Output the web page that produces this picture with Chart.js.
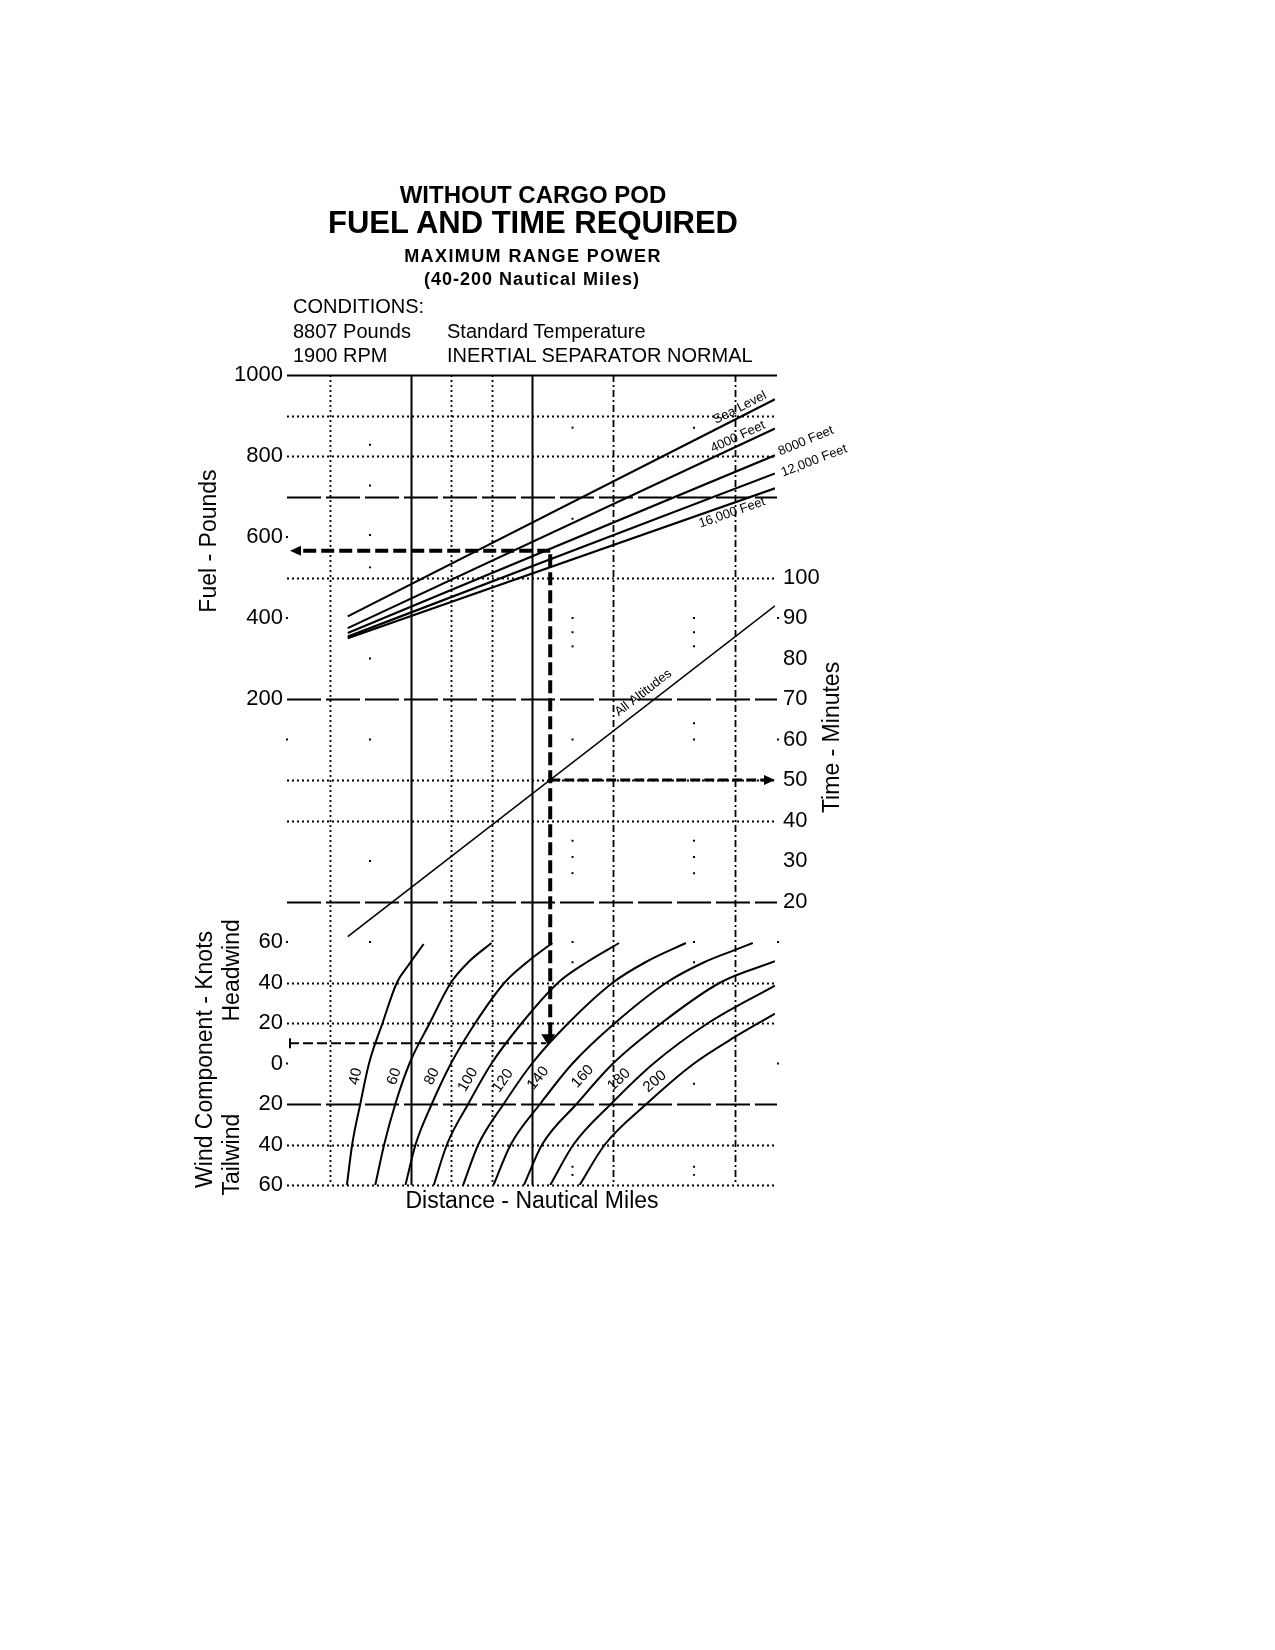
<!DOCTYPE html>
<html>
<head>
<meta charset="utf-8">
<title>Fuel and Time Required</title>
<script src="https://cdn.jsdelivr.net/npm/chart.js@4.4.1/dist/chart.umd.min.js"></script>
<style>
  html, body { margin: 0; padding: 0; background: #fff; }
  #page { position: relative; width: 1275px; height: 1650px; font-family: "Liberation Sans", Arial, sans-serif; color: #000; }
  #chart { position: absolute; left: 0; top: 0; }
  .t { position: absolute; white-space: nowrap; line-height: 1; }
  .c { transform: translateX(-50%); }
  .b { font-weight: bold; }
</style>
</head>
<body>
<div id="page">
  <canvas id="chart" width="1275" height="1650"></canvas>

  <div class="t c b" style="left:533px; top:183px; font-size:24px;">WITHOUT CARGO POD</div>
  <div class="t c b" style="left:533px; top:207px; font-size:31px;">FUEL AND TIME REQUIRED</div>
  <div class="t c b" style="left:533px; top:247px; font-size:18px; letter-spacing:1.4px;">MAXIMUM RANGE POWER</div>
  <div class="t c b" style="left:532px; top:270px; font-size:18px; letter-spacing:1px;">(40-200 Nautical Miles)</div>
  <div class="t" style="left:293px; top:296px; font-size:20px;">CONDITIONS:</div>
  <div class="t" style="left:293px; top:321px; font-size:20px;">8807 Pounds</div>
  <div class="t" style="left:447px; top:321px; font-size:20px;">Standard Temperature</div>
  <div class="t" style="left:293px; top:345px; font-size:20px;">1900 RPM</div>
  <div class="t" style="left:447px; top:345px; font-size:20px;">INERTIAL SEPARATOR NORMAL</div>
</div>

<script>
// ========================
//    chart data
// ========================

// fuel lines (pounds) at the two ends of each altitude line
const altitudeNames = ["Sea Level", "4000 Feet", "8000 Feet", "12,000 Feet", "16,000 Feet"];
const fuelLineDist = [29, 240];
const fuelAtStart = [404, 375, 363, 354, 350];
const fuelAtEnd = [940, 868, 802, 757, 720];

// time line (minutes), all altitudes
const timeLineDist = [29, 240];
const timeLineMinutes = [11.3, 93];

// wind component curves: [distance, wind] (headwind +, tailwind -)
const distanceNames = ["40", "60", "80", "100", "120", "140", "160", "180", "200"];
const distanceCurves = [
  [[28.6, -60], [31.2, -40], [35.2, -20], [39.5, 0], [46.2, 20], [53.3, 40], [58.6, 48], [66.5, 59]],
  [[42.6, -60], [47, -40], [52.5, -20], [59.5, 0], [69.5, 20], [80, 40], [88.5, 50], [100, 59.5]],
  [[57.5, -60], [62.5, -40], [70.5, -20], [80, 0], [92, 20], [106.5, 40], [117.5, 50], [130, 59.5]],
  [[71.5, -60], [78, -40], [88.5, -20], [100, 0], [115, 20], [133, 40], [147, 50], [163, 59.5]],
  [[86, -60], [93.5, -40], [106, -20], [120, 0], [138, 20], [160, 40], [176, 50], [196, 59.5]],
  [[101, -60], [109.5, -40], [124, -20], [140, 0], [161, 20], [186.5, 40], [205, 50], [220, 56], [229, 59.5]],
  [[116, -60], [125, -40], [142, -20], [160, 0], [184, 20], [213, 40], [240, 50.5]],
  [[129, -60], [140.5, -40], [159, -20], [180, 0], [207, 20], [240, 38.5]],
  [[143.5, -60], [156, -40], [176.5, -20], [200, 0], [220, 13], [240, 24.6]]
];

// label anchors
const altLabelDist = [222.7, 221.7, 255.3, 259.3, 218.8];
const altLabelFuel = [919, 847, 837, 788, 660];
const timeLabelDist = 175;
const timeLabelMinutes = 71.5;
const distLabelDist = [33, 52, 70.6, 88.4, 105.7, 123, 145, 163, 180.7];
const distLabelWind = [-6.4, -6.4, -6.4, -8, -8.5, -7.2, -6.4, -8, -8.9];

// worked example: 120 nm, 10 kt headwind
const exampleDist = 129;
const exampleWind = 10;
const exampleFuel = 566;
const exampleTime = 50;

// grid rules
const fuelGridSolid = [1000];
const fuelGridDotted = [900, 800];
const fuelGridDashed = [700, 200];
const timeGridDotted = [100, 50, 40];
const timeGridDashed = [20];
const windGridDotted = [40, 20, -40, -60];
const windGridDashed = [-20];
const distGridSolid = [60, 120];
const distGridDotted = [20, 80, 100];
const distGridDashDot = [160, 220];

// stray grid dots (fuel-axis units)
const dotsAt40 = [828, 727, 605, 525, 300, 100, -200, -400];
const dotsAt140 = [870, 645, 400, 365, 330, 100, -150, -190, -230, -400, -450, -955, -975];
const dotsAt200 = [870, 400, 365, 330, 140, 100, -150, -190, -230, -400, -450, -750, -955, -975];
const edgeDotsLeft = [600, 400, 100, -400, -700];
const edgeDotsRight = [400, 100, -400, -700];

// ========================
//    helpers
// ========================
const FONT = '"Liberation Sans", Arial, sans-serif';
const AXIS_W = 80;

function strokeLine(ctx, x1, y1, x2, y2, width, dash) {
  ctx.beginPath();
  ctx.lineWidth = width;
  ctx.setLineDash(dash);
  ctx.moveTo(x1, y1);
  ctx.lineTo(x2, y2);
  ctx.stroke();
}

function arrowHead(ctx, x, y, dir) {
  const L = 11, W = 5;
  ctx.beginPath();
  if (dir === "left") { ctx.moveTo(x, y); ctx.lineTo(x + L, y - W); ctx.lineTo(x + L, y + W); }
  if (dir === "right") { ctx.moveTo(x, y); ctx.lineTo(x - L, y - W); ctx.lineTo(x - L, y + W); }
  if (dir === "down") { ctx.moveTo(x - 2, y + 2); ctx.lineTo(x - 9, y - 9); ctx.lineTo(x + 5, y - 9); }
  ctx.closePath();
  ctx.fill();
}

function rotatedText(ctx, text, px, py, angle, size) {
  ctx.save();
  ctx.translate(px, py);
  ctx.rotate(angle);
  ctx.font = size + "px " + FONT;
  ctx.textAlign = "center";
  ctx.textBaseline = "middle";
  ctx.fillText(text, 0, 0);
  ctx.restore();
}

function segAngle(p, q) {
  return Math.atan2(q.y - p.y, q.x - p.x);
}

// ========================
//    nomogram plugin
// ========================
const nomogram = {
  id: "nomogram",

  // the three value axes share the plot height, so lay them over each other
  afterLayout(chart) {
    const a = chart.chartArea;
    ["fuel", "wind"].forEach(id => {
      const s = chart.scales[id];
      s.right = a.left;
      s.left = a.left - AXIS_W;
    });
    const t = chart.scales.time;
    t.left = a.right;
    t.right = a.right + AXIS_W;
  },

  beforeDatasetsDraw(chart) {
    const { ctx, chartArea: a, scales } = chart;
    const { x, fuel, time, wind } = scales;
    const DOT = [2, 3], LONG = [34, 5], DASHDOT = [7, 3, 2, 3];

    ctx.save();
    ctx.strokeStyle = "#000";
    const h = (scale, vals, w, dash) => vals.forEach(v => {
      const y = Math.round(scale.getPixelForValue(v)) + 0.5;
      strokeLine(ctx, a.left - 2, y, a.right + 2, y, w, dash);
    });
    const v = (vals, w, dash) => vals.forEach(d => {
      const px = Math.round(x.getPixelForValue(d)) + 0.5;
      strokeLine(ctx, px, a.top, px, a.bottom, w, dash);
    });

    h(fuel, fuelGridSolid, 2, []);
    h(fuel, fuelGridDotted, 1.8, DOT);
    h(fuel, fuelGridDashed, 2, LONG);
    h(time, timeGridDotted, 1.8, DOT);
    h(time, timeGridDashed, 2, LONG);
    h(wind, windGridDotted, 1.8, DOT);
    h(wind, windGridDashed, 2, LONG);

    v(distGridSolid, 2, []);
    v(distGridDotted, 1.8, DOT);
    v(distGridDashDot, 1.8, DASHDOT);
    ctx.restore();
  },

  afterDatasetsDraw(chart) {
    const { ctx, chartArea: a, scales } = chart;
    const { x, fuel, time, wind } = scales;
    ctx.save();
    ctx.fillStyle = "#000";
    ctx.strokeStyle = "#000";

    // altitude labels, turned along their lines
    altitudeNames.forEach((name, i) => {
      const pts = chart.getDatasetMeta(i).data;
      rotatedText(ctx, name, x.getPixelForValue(altLabelDist[i]), fuel.getPixelForValue(altLabelFuel[i]),
        segAngle(pts[0], pts[1]), 13);
    });
    const tp = chart.getDatasetMeta(5).data;
    rotatedText(ctx, "All Altitudes", x.getPixelForValue(timeLabelDist), time.getPixelForValue(timeLabelMinutes),
      segAngle(tp[0], tp[1]), 13);

    // distance labels on the wind curves
    distanceNames.forEach((name, i) => {
      const pts = chart.getDatasetMeta(6 + i).data;
      rotatedText(ctx, name, x.getPixelForValue(distLabelDist[i]), wind.getPixelForValue(distLabelWind[i]),
        segAngle(pts[2], pts[3]), 15);
    });

    // worked example path
    const ex = x.getPixelForValue(exampleDist);
    const yW = wind.getPixelForValue(exampleWind);
    const yF = fuel.getPixelForValue(exampleFuel);
    const yT = time.getPixelForValue(exampleTime);
    strokeLine(ctx, a.left, yW, ex - 4, yW, 2, [10, 4]);
    strokeLine(ctx, a.left + 1, yW - 5, a.left + 1, yW + 5, 2, []);
    strokeLine(ctx, ex, yW - 8, ex, yF, 4, [13, 5]);
    strokeLine(ctx, ex, yF, a.left + 8, yF, 4, [13, 5]);
    strokeLine(ctx, ex, yT, a.right - 8, yT, 3, [10, 4]);
    arrowHead(ctx, a.left + 1, yF, "left");
    arrowHead(ctx, a.right, yT, "right");
    arrowHead(ctx, ex, yW, "down");

    // axis titles
    ctx.setLineDash([]);
    const titles = [
      ["Fuel - Pounds", a.left - 79, fuel.getPixelForValue(590)],
      ["Time - Minutes", a.right + 58, time.getPixelForValue(60.5)],
      ["Wind Component - Knots", a.left - 83, wind.getPixelForValue(2)],
      ["Headwind", a.left - 56, wind.getPixelForValue(46)],
      ["Tailwind", a.left - 56, wind.getPixelForValue(-45)]
    ];
    titles.forEach(([t, px, py]) => rotatedText(ctx, t, px, py, -Math.PI / 2, 23));
    ctx.restore();
  }
};

// ========================
//    datasets
// ========================
const lineStyle = { borderColor: "#000", pointRadius: 0, fill: false };

const fuelSets = altitudeNames.map((name, i) => ({
  ...lineStyle,
  label: name,
  yAxisID: "fuel",
  borderWidth: 2.2,
  data: [{ x: fuelLineDist[0], y: fuelAtStart[i] }, { x: fuelLineDist[1], y: fuelAtEnd[i] }]
}));

const timeSet = {
  ...lineStyle,
  label: "All Altitudes",
  yAxisID: "time",
  borderWidth: 1.6,
  data: timeLineDist.map((d, i) => ({ x: d, y: timeLineMinutes[i] }))
};

const curveSets = distanceCurves.map((pts, i) => ({
  ...lineStyle,
  label: distanceNames[i] + " NM",
  yAxisID: "wind",
  borderWidth: 2,
  cubicInterpolationMode: "monotone",
  data: pts.map(p => ({ x: p[0], y: p[1] }))
}));

const dotStyle = { showLine: false, pointStyle: "rect", pointRadius: 1.4, pointBorderWidth: 0,
  pointBackgroundColor: "#000", yAxisID: "fuel", clip: false };

const dotSet = {
  ...dotStyle,
  label: "grid dots",
  data: [
    ...dotsAt40.map(f => ({ x: 40, y: f })),
    ...dotsAt140.map(f => ({ x: 140, y: f })),
    ...dotsAt200.map(f => ({ x: 200, y: f })),
    ...edgeDotsLeft.map(f => ({ x: -1, y: f })),
    ...edgeDotsRight.map(f => ({ x: 241.5, y: f }))
  ]
};

// ========================
//    chart
// ========================
Chart.defaults.font.family = FONT;
Chart.defaults.color = "#000";

const tickFont = { size: 22 };
const fixWidth = s => { s.width = AXIS_W; };

new Chart(document.getElementById("chart"), {
  type: "line",
  data: { datasets: [...fuelSets, timeSet, ...curveSets, dotSet] },
  options: {
    responsive: false,
    animation: false,
    events: [],
    // plot area: 289..775 across, 375..1185 down
    layout: { padding: { left: 289 - 2 * AXIS_W, right: 500 - AXIS_W, top: 375, bottom: 431 } },
    plugins: { legend: { display: false }, tooltip: { enabled: false } },
    scales: {
      x: {
        type: "linear", min: 0, max: 240,
        grid: { display: false, drawTicks: false },
        border: { display: false },
        ticks: { display: false },
        title: { display: true, text: "Distance - Nautical Miles", font: { size: 23 }, padding: { top: 6, bottom: 4 } },
        afterFit: s => { s.height = 34; }
      },
      fuel: {
        axis: "y", type: "linear", position: "left", min: -1000, max: 1000,
        grid: { display: false, drawTicks: false },
        border: { display: false },
        ticks: { stepSize: 200, autoSkip: false, padding: 6, font: tickFont,
          callback: v => (v >= 200 ? String(v) : null) },
        afterFit: fixWidth
      },
      wind: {
        axis: "y", type: "linear", position: "left", min: -60, max: 340,
        grid: { display: false, drawTicks: false },
        border: { display: false },
        ticks: { stepSize: 20, autoSkip: false, padding: 6, font: tickFont,
          callback: v => (v <= 60 ? String(Math.abs(v)) : null) },
        afterFit: fixWidth
      },
      time: {
        axis: "y", type: "linear", position: "right", min: -50, max: 150,
        grid: { display: false, drawTicks: false },
        border: { display: false },
        ticks: { stepSize: 10, autoSkip: false, padding: 8, font: tickFont,
          callback: v => (v >= 20 && v <= 100 ? String(v) : null) },
        afterFit: fixWidth
      }
    }
  },
  plugins: [nomogram]
});
</script>
</body>
</html>
